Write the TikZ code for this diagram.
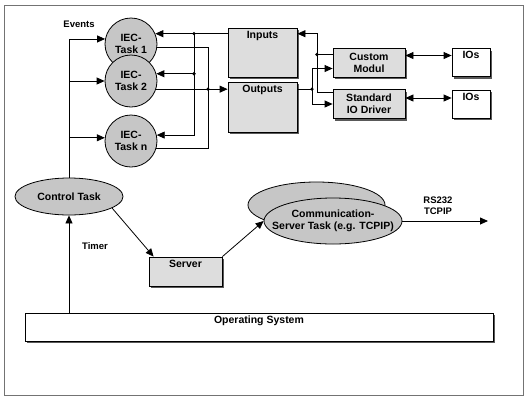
\documentclass[tikz,border=0pt]{standalone}
\usepackage{fontspec}
\setmainfont{Liberation Sans}
\usepackage{tikz}
\usetikzlibrary{shapes.geometric}
\usetikzlibrary{arrows.meta,shadows}
\definecolor{boxgray}{HTML}{DDDDDD}
\definecolor{taskgray}{HTML}{C6C6C6}

\begin{document}
\begin{tikzpicture}[x=1pt,y=-1pt,line width=0.8pt,
		font=\fontsize{10.5}{12}\selectfont\bfseries,
		arr/.style={arrows={-Triangle[length=8pt,width=7pt]}},
		darr/.style={arrows={Triangle[length=8pt,width=7pt]-Triangle[length=8pt,width=7pt]}},
		task/.style={circle,draw,fill=taskgray,minimum size=52pt,inner sep=0pt,align=center},
		oval/.style={ellipse,draw,fill=taskgray,inner xsep=-20pt,inner ysep=-5pt,align=center},
		shad/.style={drop shadow={shadow xshift=2pt,shadow yshift=-2pt,fill=black!65,opacity=1}},
		tbox/.style={draw,fill=boxgray,shad,inner xsep=0pt,inner ysep=2pt,text height=8pt},
		cbox/.style={draw,fill=boxgray,shad,minimum width=72pt,minimum height=29pt,inner sep=0pt,align=center},
		lbl/.style={font=\fontsize{9.5}{11}\selectfont\bfseries,align=center}]
		\useasboundingbox (0,0) rectangle (528,400);
		\draw[black!55] (4,5) rectangle (523,395);
		%定义各个任务和模块
		\node (T1) [task] at (131,44) {IEC-\\Task 1};
		\node (T2) [task,below of=T1,node distance=37pt] {IEC-\\Task 2};
		\node (Tn) [task,below of=T2,node distance=60pt] {IEC-\\Task n};
		\node (CT) [oval,minimum width=108pt,minimum height=37pt] at (69,196.5) {Control Task};
		\node (In) [tbox,minimum width=69pt,text depth=37pt] at (262.5,52.5) {Inputs};
		\node (Out) [tbox,minimum width=69pt,text depth=38pt,below of=In,node distance=54.5pt] {Outputs};
		\node (CM) [cbox,right of=In,node distance=106.5pt,yshift=-10pt] {Custom\\Modul};
		\node (SD) [cbox,below of=CM,node distance=41.5pt] {Standard\\IO Driver};
		\node (IO1) [tbox,fill=white,minimum width=38pt,text depth=16pt,right of=CM,node distance=102pt] {IOs};
		\node (IO2) [tbox,fill=white,minimum width=38pt,text depth=16pt,right of=SD,node distance=102pt] {IOs};
		\node (Srv) [tbox,minimum width=73pt,text depth=17pt] at (185.5,271.5) {Server};
		\node (CSb) [oval,minimum width=137pt,minimum height=46pt] at (316.5,205) {};
		\node (CS) [oval,minimum width=138pt,minimum height=46pt] at (333,221) {Communication-\\Server Task (e.g. TCPIP)};
		\node (OS) [tbox,fill=white,minimum width=468pt,text depth=16pt] at (259,327) {Operating System};
		\node (Ev) [lbl] at (79,24) {Events};
		\node (Tm) [lbl] at (95,246) {Timer};
		\node (RS) [lbl] at (438,206) {RS232\\TCPIP};
		
		\coordinate (ibus) at (194,0);
		\coordinate (obus) at (208,0);
		\coordinate (rib) at (317,0);
		\coordinate (rob) at (312,0);
		\coordinate (rsend) at (488,0);
		\coordinate (cmin) at ([yshift=8pt]CM.west);
		\coordinate (cmout) at ([yshift=-6pt]CM.west);
		
		%连接
		\draw (CT.north) -- (CT.north |- T1.169);
		\draw[arr] (CT.north |- T1.169) -- (T1.169);
		\draw[arr] (CT.north |- T2.west) -- (T2.west);
		\draw[arr] (CT.north |- Tn.173) -- (Tn.173);
		\draw[arr] (In.west |- T1.23) -- (T1.23);
		\draw[arr] (ibus |- T1.23) |- (Tn.13);
		\draw[arr] (ibus |- T2.16) -- (T2.16);
		\draw (T1.353) -| (obus |- Tn.344) -- (Tn.344);
		\draw[arr] (T2.342) -- (T2.342 -| Out.west);
		\draw[arr] ([yshift=-3pt]SD.north west) -| (rib |- T1.23) -- (In.east |- T1.23);
		\draw (cmin) -- (rib |- cmin);
		\draw[arr] (Out.east |- T2.342) -| (rob |- cmout) -- (cmout);
		\draw[arr] (rob |- T2.342) |- (SD.west);
		\draw[darr] ([yshift=7pt]CM.east) -- ([yshift=7pt]CM.east -| IO1.west);
		\draw[darr] ([yshift=6pt]SD.east) -- ([yshift=6pt]SD.east -| IO2.west);
		\draw[arr] (CT.345) -- ([xshift=5pt]Srv.north west);
		\draw[arr] (Srv.north east) -- (CS.west);
		\draw[arr] (CS.east) -- (CS.east -| rsend);
		\draw[arr] (CT.south |- OS.north) -- (CT.south);
		\fill (ibus |- T1.23) circle (1.8pt) (ibus |- T2.16) circle (1.8pt) (obus |- T2.342) circle (1.8pt)
			(rib |- cmin) circle (1.8pt) (rob |- T2.342) circle (1.8pt);
	\end{tikzpicture}
\end{document}
